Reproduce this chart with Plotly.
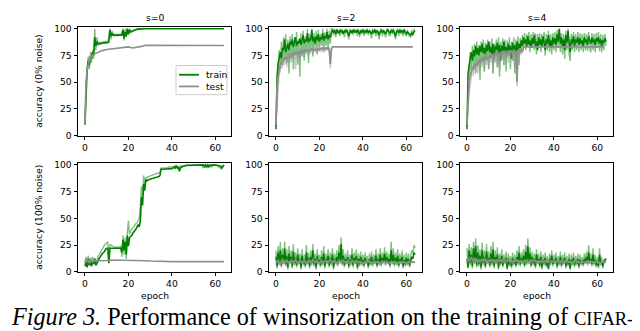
import plotly.graph_objects as go

# ---------------- data (accuracy %, sampled every half epoch unless epochs given) ----------------
STEP = 0.5
col_titles = ["s=0", "s=2", "s=4"]
row_titles = ["accuracy (0% noise)", "accuracy (100% noise)"]
x_title = "epoch"
x_ticks = [0, 20, 40, 60]
y_ticks = [0, 25, 50, 75, 100]

# s=0, 0% noise
a_train = [10, 45, 62, 70, 66, 74, 72, 78, 75, 92, 84, 88, 86, 86, 86, 86, 86.5, 87, 87, 87, 87, 87,
           88, 99, 93, 96, 94, 94, 94, 94, 94, 94, 94, 94, 94, 99, 91, 97, 93, 100, 95, 99, 97, 97.5,
           98, 98.5, 99, 99.2, 99.4, 99.6, 99.7, 99.8, 99.9, 100, 100]
a_train_tail_ep = [40, 64]
a_train_tail = [100, 100]
a_train_b = [12, 50, 58, 74, 62, 78, 68, 80, 72, 100, 80, 92, 84, 88, 85, 87, 86, 88, 86, 88, 87, 88,
             92, 100, 90, 98, 93, 95, 93, 95, 93, 95, 94, 95, 96, 100, 89, 100, 92, 100, 94, 100, 96, 98,
             98, 99, 99, 99.5, 99.5, 100, 100, 100, 100, 100, 100]
a_test_ep = [0, 0.5, 1, 1.5, 2, 3, 4, 5, 6, 8, 10, 12, 14, 16, 18, 20, 22, 24, 26, 28, 30, 35, 40, 50, 60, 64]
a_test = [10, 50, 62, 68, 71, 74, 76, 77, 78, 79.5, 80.5, 81, 82, 82.5, 83, 83, 82, 82.5, 83.5, 84.5,
          84.5, 84.5, 84.5, 84.5, 84.3, 84.3]

# s=2, 0% noise
b_train = [6, 55, 68, 74, 78, 72, 82, 80, 90, 78, 84, 86, 80, 88, 85, 90, 83, 87, 92, 84, 88, 86, 91, 85,
           89, 94, 86, 90, 88, 96, 87, 91, 89, 99, 88, 92, 86, 93, 89, 95, 88, 92, 90, 96, 89, 93, 91, 97,
           90, 94, 92, 96, 99, 97, 98, 95, 99, 97, 96, 99, 97, 98, 95, 98, 97, 99, 96, 93, 97, 98, 96, 99,
           97, 98, 96, 99, 97, 95, 98, 97, 99, 96, 98, 97, 99, 96, 98, 97, 95, 98, 97, 99, 96, 98, 97, 94,
           97, 99, 96, 98, 97, 95, 98, 99, 97, 96, 98, 97, 99, 96, 93, 97, 98, 96, 99, 97, 98, 96, 99, 97,
           95, 97, 96, 95, 94, 96, 95, 97, 98]
b_train_b = [8, 40, 60, 80, 62, 88, 66, 92, 70, 95, 68, 90, 58, 93, 72, 95, 62, 92, 75, 97, 66, 90, 55, 96,
             74, 98, 70, 93, 78, 100, 68, 95, 80, 100, 74, 96, 82, 98, 76, 99, 80, 95, 84, 100, 78, 97, 84,
             100, 80, 98, 86, 100, 100, 94, 100, 92, 100, 95, 99, 93, 100, 95, 98, 92, 100, 96, 99, 90, 100,
             95, 99, 94, 100, 96, 99, 93, 100, 92, 99, 95, 100, 93, 99, 95, 100, 94, 99, 96, 91, 100, 95,
             100, 93, 99, 95, 90, 99, 100, 93, 99, 95, 92, 100, 99, 94, 93, 100, 95, 100, 93, 90, 99, 100,
             93, 100, 95, 99, 93, 100, 95, 93, 99, 94, 93, 92, 99, 93, 99, 100]
b_test = [10, 45, 55, 62, 66, 68, 70, 71, 72, 73, 72, 74, 75, 74, 76, 75, 77, 76, 77, 78, 76, 78, 77, 79,
          78, 79, 78, 80, 79, 79, 80, 79, 80, 81, 80, 80, 81, 80, 81, 81, 80, 81, 82, 81, 81, 82, 81, 82,
          82, 81, 67, 80, 83]
b_test_tail_ep = [30, 40, 50, 63]
b_test_tail = [83, 83, 83, 83]
b_test_b = [12, 30, 50, 58, 60, 72, 63, 74, 66, 76, 64, 77, 70, 77, 68, 78, 72, 79, 62, 79, 73, 80, 70,
            80, 75, 81, 73, 81, 76, 81, 74, 82, 77, 82, 76, 82, 78, 82, 77, 82, 79, 82, 78, 83, 80, 83,
            79, 83, 80, 83, 63, 82, 83]

# s=4, 0% noise
c_train = [6, 58, 66, 72, 78, 70, 80, 74, 84, 76, 82, 75, 84, 78, 86, 77, 82, 76, 85, 79, 88, 78, 83, 76,
           86, 72, 84, 80, 87, 77, 85, 70, 84, 79, 88, 78, 83, 76, 86, 80, 84, 72, 87, 79, 85, 74, 88, 80,
           86, 82, 89, 84, 92, 86, 90, 84, 93, 85, 89, 82, 91, 86, 94, 84, 88, 80, 92, 85, 90, 83, 93, 87,
           80, 90, 86, 94, 84, 89, 82, 92, 86, 91, 85, 95, 88, 100, 86, 92, 83, 90, 80, 94, 87, 98, 85, 78,
           90, 86, 93, 84, 90, 87, 92, 85, 91, 86, 89, 84, 92, 87, 90, 85, 93, 88, 86, 92, 87, 90, 85, 91,
           88, 92, 86, 90, 84, 89, 87, 91, 88]
c_train_b = [8, 40, 52, 78, 60, 84, 64, 86, 58, 88, 66, 85, 52, 88, 68, 90, 60, 87, 70, 90, 62, 88, 72,
             91, 58, 86, 74, 90, 64, 92, 55, 88, 72, 91, 66, 90, 60, 89, 74, 92, 62, 88, 70, 92, 58, 90,
             76, 93, 66, 91, 78, 94, 82, 96, 80, 95, 84, 97, 78, 95, 82, 97, 80, 96, 76, 95, 82, 96, 78,
             95, 84, 97, 75, 95, 80, 98, 78, 95, 76, 96, 80, 97, 78, 99, 82, 100, 78, 96, 76, 95, 72, 98,
             80, 100, 76, 70, 95, 80, 97, 78, 95, 80, 97, 78, 96, 80, 95, 78, 96, 80, 95, 79, 97, 82, 78,
             96, 80, 95, 78, 96, 82, 97, 79, 95, 78, 94, 80, 95, 84]
c_test = [10, 38, 50, 56, 60, 63, 62, 66, 67, 65, 69, 70, 68, 71, 72, 70, 73, 72, 74, 71, 74, 75, 73, 75,
          76, 70, 76, 77, 75, 77, 72, 77, 78, 76, 78, 77, 79, 76, 78, 79, 77, 79, 78, 80, 77, 79, 50, 78,
          80, 79, 80, 78, 83]
c_test_tail_ep = [30, 40, 50, 63]
c_test_tail = [83, 83, 83, 83]
c_test_b = [12, 28, 40, 48, 54, 66, 56, 68, 60, 70, 58, 72, 62, 74, 64, 75, 60, 76, 66, 76, 62, 77, 68,
            77, 58, 78, 68, 78, 64, 79, 62, 79, 70, 79, 66, 80, 72, 80, 68, 80, 72, 80, 70, 81, 64, 80,
            46, 81, 74, 81, 76, 82, 83]

# s=0, 100% noise
d_train = [5, 10, 4, 12, 6, 11, 5, 10, 7, 12, 6, 9, 10, 12, 14, 15, 17, 18, 19, 21, 22, 22, 8, 22, 22,
           22, 22, 22, 22, 22, 22, 22, 22, 22, 18, 30, 20, 28, 16, 34, 24, 32, 33, 34, 36, 37, 39, 40, 42,
           44, 42, 48, 70, 62, 82, 76, 86, 85, 86, 86, 86.5, 87, 87, 87.5, 88, 88, 88.5, 89, 89, 90, 96,
           96, 96, 96, 96, 96, 96, 96.5, 96.5, 96.5, 96.5, 97, 98, 97, 99, 97, 98, 94, 97.5, 98, 98.5, 99,
           99, 99.5, 99.5, 99.5, 99.5, 100, 100, 100, 100, 100, 100, 100, 100, 100, 100, 100, 100, 100, 98,
           100, 98.5, 100, 98, 100, 100, 99, 100, 100, 100, 100, 100, 99.5, 99, 98.5, 97, 99, 100]
d_train_b = [8, 14, 6, 15, 8, 13, 7, 14, 9, 13, 8, 12, 14, 16, 18, 20, 22, 24, 25, 26, 27, 28, 12, 25,
             25, 24, 24, 23, 23, 23, 23, 23, 23, 24, 14, 34, 16, 32, 12, 36, 48, 35, 38, 40, 41, 42, 44,
             45, 46, 48, 50, 62, 80, 70, 90, 82, 88, 88, 89, 89, 90, 90, 90.5, 91, 91, 91.5, 92, 92, 92.5,
             93, 97, 97, 97, 97, 97.5, 97.5, 97.5, 98, 98, 98, 98, 98, 99, 98, 100, 98, 99, 95, 99, 99, 99,
             99.5, 99.5, 100, 100, 100, 100, 100, 100, 100, 100, 100, 100, 100, 100, 100, 100, 100, 99, 97,
             100, 97.5, 100, 97, 100, 99, 98, 100, 100, 100, 100, 100, 99, 98, 98, 96, 99, 100]
d_test_ep = [0, 0.5, 1, 1.5, 2, 2.5, 3, 3.5, 4, 4.5, 5, 6, 8, 10, 12, 14, 16, 18, 20, 22, 24, 26, 28, 30,
             35, 40, 45, 50, 55, 60, 64]
d_test = [8, 12, 9, 11, 8, 12, 10, 9, 11, 10, 10, 10, 10, 10.5, 11, 11, 11, 11, 11, 10.5, 10.5, 10.5,
          10.3, 10, 9.5, 9.5, 9.5, 9.5, 9.5, 9.5, 9.5]

# s=2, 100% noise
e_train = [14, 5, 18, 8, 20, 6, 16, 9, 22, 7, 15, 4, 17, 10, 14, 5, 19, 8, 13, 6, 16, 9, 12, 4, 15, 8,
           11, 6, 18, 9, 13, 5, 14, 8, 20, 7, 12, 4, 15, 9, 11, 6, 14, 8, 17, 5, 12, 9, 15, 6, 13, 8, 16,
           4, 12, 9, 14, 7, 18, 10, 26, 8, 15, 6, 12, 9, 14, 5, 11, 8, 16, 6, 13, 9, 15, 4, 12, 7, 14, 8,
           11, 6, 13, 9, 10, 5, 12, 8, 14, 7, 11, 9, 15, 6, 12, 8, 16, 7, 13, 10, 17, 8, 14, 9, 12, 6, 20,
           9, 16, 7, 13, 8, 15, 6, 12, 9, 14, 5, 11, 7, 13, 8, 12, 6, 10, 14, 12, 18, 16]
e_train_b = [20, 3, 24, 6, 28, 4, 22, 7, 28, 5, 21, 2, 24, 8, 20, 3, 26, 6, 18, 4, 22, 7, 17, 2, 21, 6,
             16, 4, 25, 7, 18, 3, 20, 6, 26, 5, 17, 2, 21, 7, 16, 4, 20, 6, 24, 3, 17, 7, 21, 4, 18, 6, 22,
             2, 17, 7, 20, 5, 25, 8, 32, 6, 21, 4, 17, 7, 20, 3, 16, 6, 22, 4, 18, 7, 21, 2, 17, 5, 19, 6,
             16, 4, 18, 7, 15, 3, 17, 6, 19, 5, 16, 7, 21, 4, 17, 6, 22, 5, 18, 8, 23, 6, 19, 7, 17, 4, 28,
             7, 22, 5, 18, 6, 21, 4, 17, 7, 20, 3, 16, 5, 18, 6, 17, 4, 15, 20, 17, 25, 22]
e_test = [9, 10, 8, 11, 9, 10, 8, 10, 9, 11, 8, 10, 9, 10, 8, 10, 9, 11, 9, 10, 8, 10, 9, 10, 9, 11, 9,
          10, 8, 10, 9, 10, 9, 10, 8, 10, 9, 10, 9, 9, 8, 9, 9, 10, 8, 9, 9, 9, 8, 9, 9, 9, 8, 9, 9, 9, 8,
          9, 9, 9, 8, 9, 9, 9, 9]
e_test_b = [7, 12, 6, 13, 7, 12, 6, 12, 7, 13, 6, 12, 7, 12, 6, 12, 7, 13, 7, 12, 6, 12, 7, 12, 7, 13, 7,
            12, 6, 12, 7, 12, 7, 12, 6, 12, 7, 11, 7, 11, 6, 11, 7, 11, 6, 11, 7, 11, 6, 11, 7, 10, 7, 10,
            7, 10, 7, 10, 7, 10, 7, 10, 8, 10, 8]

# s=4, 100% noise
f_train = [12, 4, 20, 8, 16, 5, 22, 9, 24, 6, 18, 7, 15, 4, 20, 8, 14, 5, 19, 9, 13, 6, 17, 8, 21, 5,
           14, 9, 16, 4, 12, 8, 15, 6, 11, 9, 13, 3, 12, 7, 10, 5, 13, 8, 11, 6, 14, 8, 18, 7, 13, 9, 15,
           6, 19, 8, 24, 9, 17, 6, 14, 8, 12, 5, 16, 9, 12, 6, 14, 4, 11, 8, 13, 6, 10, 3, 12, 8, 15, 7,
           11, 9, 13, 5, 10, 8, 14, 6, 11, 9, 13, 5, 10, 7, 12, 3, 11, 8, 13, 6, 10, 8, 12, 5, 11, 8, 10,
           7, 12, 9, 14, 8, 18, 9, 12, 7, 16, 8, 11, 6, 10, 5, 16, 8, 10, 5, 9, 11, 12]
f_train_b = [22, 3, 26, 6, 23, 3, 28, 7, 31, 4, 25, 5, 21, 2, 27, 6, 20, 3, 26, 7, 19, 4, 24, 6, 28, 3,
             20, 7, 23, 2, 17, 6, 21, 4, 16, 7, 19, 2, 17, 5, 15, 3, 18, 6, 16, 4, 20, 6, 24, 5, 18, 7, 21,
             4, 25, 6, 31, 7, 23, 4, 19, 6, 17, 3, 21, 7, 17, 4, 19, 2, 16, 6, 18, 4, 15, 2, 17, 6, 20, 5,
             16, 7, 18, 3, 15, 6, 19, 4, 16, 7, 18, 3, 15, 5, 17, 2, 16, 6, 18, 4, 15, 6, 17, 3, 16, 6, 14,
             5, 17, 7, 19, 6, 25, 7, 17, 5, 22, 6, 16, 4, 14, 3, 22, 6, 14, 3, 12, 10, 13]
f_test = [12, 10, 13, 10, 12, 9, 11, 10, 12, 9, 11, 10, 11, 9, 11, 10, 11, 9, 11, 10, 10, 9, 11, 10, 10,
          9, 10, 10, 10, 9, 11, 10, 10, 9, 10, 9, 10, 9, 10, 9, 10, 9, 10, 9, 10, 9, 10, 9, 9, 9, 10, 9,
          9, 9, 9, 9, 10, 9, 9, 9, 9, 8, 9, 9, 9]
f_test_b = [8, 14, 7, 14, 8, 13, 7, 13, 8, 13, 7, 13, 8, 12, 7, 13, 8, 12, 7, 12, 7, 12, 8, 12, 7, 12, 7,
            12, 8, 12, 7, 12, 7, 11, 7, 11, 7, 11, 7, 11, 7, 11, 7, 11, 7, 11, 7, 10, 7, 10, 7, 10, 7, 10,
            8, 10, 8, 10, 8, 10, 8, 10, 8, 10, 9]

# ---------------- styling ----------------
GREEN = "#008000"
GREEN_L = "rgba(0,128,0,0.5)"
GRAY = "#8f8f8f"
GRAY_L = "rgba(143,143,143,0.5)"
FONT = "DejaVu Sans"
FS = 9.2

W, H = 640, 331
col_px = [(70, 223), (261, 414), (452, 605)]
row_px = [(15, 127), (155, 267)]


def dense(vals, step=STEP):
    return [i * step for i in range(len(vals))]


def epochs_1(vals):
    return [i for i in range(len(vals))]


fig = go.Figure()

panels = {
    (0, 0): [
        (dense(a_train_b), a_train_b, GREEN_L, 1.4),
        (dense(a_train) + a_train_tail_ep, a_train + a_train_tail, GREEN, 1.6),
        (a_test_ep, a_test, GRAY, 1.6),
    ],
    (0, 1): [
        (dense(b_train_b), b_train_b, GREEN_L, 1.4),
        (dense(b_train), b_train, GREEN, 1.5),
        (dense(b_test_b), b_test_b, GRAY_L, 1.4),
        (dense(b_test) + b_test_tail_ep, b_test + b_test_tail, GRAY, 1.7),
    ],
    (0, 2): [
        (dense(c_train_b), c_train_b, GREEN_L, 1.4),
        (dense(c_train), c_train, GREEN, 1.5),
        (dense(c_test_b), c_test_b, GRAY_L, 1.4),
        (dense(c_test) + c_test_tail_ep, c_test + c_test_tail, GRAY, 1.7),
    ],
    (1, 0): [
        (dense(d_train_b), d_train_b, GREEN_L, 1.4),
        (dense(d_train), d_train, GREEN, 1.6),
        (d_test_ep, d_test, GRAY, 1.6),
    ],
    (1, 1): [
        (dense(e_train_b), e_train_b, GREEN_L, 1.4),
        (dense(e_train), e_train, GREEN, 1.5),
        (epochs_1(e_test_b), e_test_b, GRAY_L, 1.4),
        (epochs_1(e_test), e_test, GRAY, 1.7),
    ],
    (1, 2): [
        (dense(f_train_b), f_train_b, GREEN_L, 1.4),
        (dense(f_train), f_train, GREEN, 1.5),
        (epochs_1(f_test_b), f_test_b, GRAY_L, 1.4),
        (epochs_1(f_test), f_test, GRAY, 1.7),
    ],
}

annotations = []
layout = {}
for (r, c), traces in panels.items():
    idx = r * 3 + c + 1
    xa = "x" if idx == 1 else f"x{idx}"
    ya = "y" if idx == 1 else f"y{idx}"
    for (xs, ys, color, wdt) in traces:
        name = "train" if color in (GREEN, GREEN_L) else "test"
        fig.add_trace(go.Scatter(x=xs, y=ys, mode="lines", name=name, showlegend=False,
                                 line=dict(color=color, width=wdt), xaxis=xa, yaxis=ya,
                                 hoverinfo="skip"))
    x0, x1 = col_px[c]
    y0, y1 = row_px[r]
    xkey = "xaxis" if idx == 1 else f"xaxis{idx}"
    ykey = "yaxis" if idx == 1 else f"yaxis{idx}"
    layout[xkey] = dict(
        domain=[x0 / W, x1 / W], anchor=ya, range=[-3.2, 67.2], tickvals=x_ticks,
        ticks="outside", ticklen=3.5, tickwidth=0.8, tickcolor="black",
        showline=True, linecolor="black", linewidth=0.9, mirror=True,
        showgrid=False, zeroline=False, tickfont=dict(family=FONT, size=FS, color="black"),
    )
    layout[ykey] = dict(
        domain=[(H - y1) / H, (H - y0) / H], anchor=xa, range=[0, 102], tickvals=y_ticks,
        ticks="outside", ticklen=3.5, tickwidth=0.8, tickcolor="black",
        showline=True, linecolor="black", linewidth=0.9, mirror=True,
        showgrid=False, zeroline=False, tickfont=dict(family=FONT, size=FS, color="black"),
        title=dict(text=row_titles[r], font=dict(family=FONT, size=FS, color="black"), standoff=9) if c == 0 else None,
    )
    if r == 1:
        annotations.append(dict(text=x_title, x=(x0 + x1) / 2 / W, y=(H - 291) / H, xref="paper",
                                yref="paper", showarrow=False, xanchor="center", yanchor="middle",
                                font=dict(family=FONT, size=FS, color="black")))

for c, t in enumerate(col_titles):
    x0, x1 = col_px[c]
    annotations.append(dict(text=t, x=(x0 + x1) / 2 / W, y=(H - 6) / H, xref="paper", yref="paper",
                            showarrow=False, xanchor="center", yanchor="middle",
                            font=dict(family=FONT, size=FS, color="black")))

# legend (drawn as in the original: frame with two line samples)
shapes = []
lx0, lx1, ly0, ly1 = 168, 219, 55, 85
shapes.append(dict(type="rect", xref="paper", yref="paper", x0=lx0 / W, x1=lx1 / W,
                   y0=(H - ly1) / H, y1=(H - ly0) / H, line=dict(color="#cccccc", width=1),
                   fillcolor="rgba(255,255,255,0.85)", layer="above"))
for name, color, yy in [("train", GREEN, 64.5), ("test", GRAY, 76.5)]:
    shapes.append(dict(type="line", xref="paper", yref="paper", x0=171 / W, x1=191 / W,
                       y0=(H - yy) / H, y1=(H - yy) / H, line=dict(color=color, width=1.8), layer="above"))
    annotations.append(dict(text=name, x=196 / W, y=(H - yy) / H, xref="paper", yref="paper",
                            showarrow=False, xanchor="left", yanchor="middle",
                            font=dict(family=FONT, size=FS, color="black")))

# caption
annotations.append(dict(
    text="<i>Figure 3.</i> Performance of winsorization on the training of <span style='font-size:18.5px'>CIFAR-</span>",
    x=0, y=(H - 313) / H, xref="paper", yref="paper", showarrow=False,
    xanchor="left", yanchor="middle", xshift=1,
    font=dict(family="Liberation Serif, Times New Roman, serif", size=24.2, color="black")))

fig.update_layout(
    width=W, height=H, margin=dict(l=0, r=0, t=0, b=0),
    paper_bgcolor="white", plot_bgcolor="white", showlegend=False,
    annotations=annotations, shapes=shapes, **layout,
)

fig.write_html("out.html")
